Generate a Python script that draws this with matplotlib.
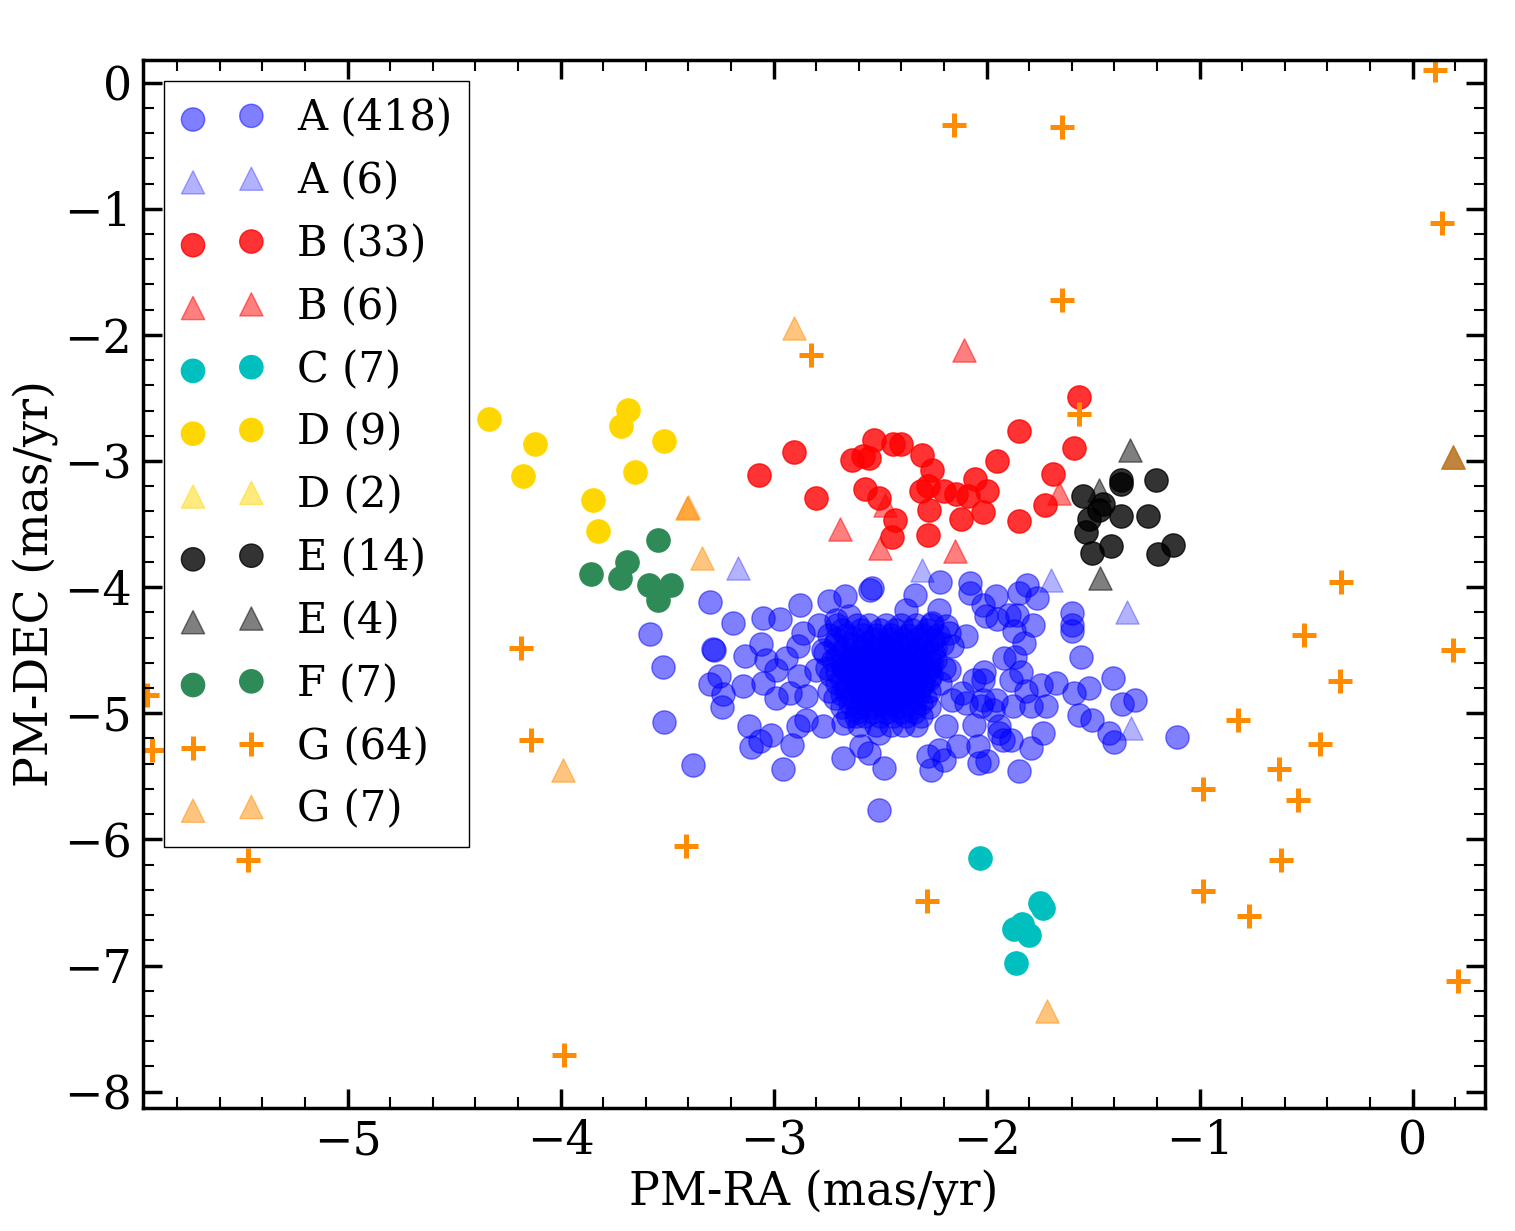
import matplotlib
matplotlib.use("Agg")
import matplotlib.pyplot as plt
from matplotlib.ticker import AutoMinorLocator

plt.rcParams['font.family'] = ['DejaVu Serif']

# ---- data ----
# A circles: outskirts
a_x = [-3.296, -3.580, -3.519, -3.515, -3.379, -3.191, -3.285, -3.280, -3.297, -3.254,
       -3.235, -3.244, -3.132, -3.051, -2.972, -2.874, -3.060, -3.144, -3.113, -3.011,
       -3.107, -3.063, -2.915, -2.957, -2.887, -2.738, -2.663, -2.538, -2.545, -2.785,
       -2.863, -2.887, -3.035, -2.988, -2.941, -3.051, -2.988, -2.925, -2.847, -2.879,
       -2.800, -2.769, -2.706, -2.644, -2.847, -2.769, -2.676, -2.676, -2.589, -2.550,
       -2.480, -2.504, -2.504, -2.613,
       -2.218, -2.335, -2.077, -2.078, -1.957, -2.019, -2.003, -1.949, -1.894, -1.855,
       -1.847, -1.808, -1.761, -1.780, -1.871, -1.824, -1.917, -1.866, -1.839, -1.886,
       -2.011, -2.058, -1.816, -1.746, -1.675, -1.722, -1.792, -1.878, -1.956, -2.027,
       -1.597, -1.600, -1.597, -1.558, -1.589, -1.519, -1.405, -1.363, -1.303, -1.566,
       -1.503, -1.425, -1.402, -1.108, -1.735, -1.789, -1.847, -1.886, -1.941, -1.940,
       -1.996, -2.035, -2.038, -2.058, -2.136, -2.199, -2.263, -2.277, -2.222, -2.191,
       -2.097, -2.113, -2.019, -2.160, -2.175, -2.097, -2.160, -2.175, -2.222, -2.254,
       -2.378, -2.191, -2.019, -1.972, -1.925]
a_y = [-4.118, -4.372, -4.634, -5.070, -5.411, -4.285, -4.489, -4.495, -4.766, -4.703,
       -4.845, -4.954, -4.544, -4.245, -4.253, -4.140, -4.449, -4.787, -5.104, -5.170,
       -5.268, -5.216, -5.255, -5.438, -5.104, -4.113, -4.068, -4.007, -4.020, -4.298,
       -4.364, -4.470, -4.576, -4.655, -4.562, -4.760, -4.880, -4.840, -4.866, -4.708,
       -4.655, -4.496, -4.259, -4.232, -5.051, -5.104, -5.078, -5.355, -5.263, -5.316,
       -5.435, -5.765, -5.157, -5.025,
       -3.960, -4.063, -3.968, -4.047, -4.068, -4.140, -4.232, -4.253, -4.219, -4.219,
       -4.047, -3.981, -4.087, -4.304, -4.351, -4.443, -4.562, -4.550, -4.669, -4.734,
       -4.669, -4.734, -4.827, -4.774, -4.760, -4.946, -4.946, -4.946, -4.893, -4.946,
       -4.206, -4.298, -4.351, -4.555, -4.840, -4.800, -4.721, -4.925, -4.893, -5.012,
       -5.051, -5.157, -5.224, -5.189, -5.157, -5.276, -5.456, -5.210, -5.104, -5.157,
       -5.382, -5.395, -5.263, -5.091, -5.263, -5.369, -5.453, -5.337, -5.289, -5.104,
       -4.919, -4.840, -4.893, -4.893, -4.655, -4.391, -4.470, -4.364, -4.179, -4.285,
       -4.179, -4.311, -4.735, -4.975, -5.210]
# A circles: dense core
a_core_x = [-2.70, -2.61, -2.55, -2.47, -2.40, -2.33, -2.26,
            -2.74, -2.66, -2.58, -2.52, -2.45, -2.37, -2.30, -2.23,
            -2.71, -2.63, -2.56, -2.49, -2.42, -2.36, -2.28, -2.21,
            -2.76, -2.68, -2.60, -2.54, -2.47, -2.40, -2.33, -2.25,
            -2.72, -2.64, -2.57, -2.50, -2.44, -2.38, -2.31, -2.24,
            -2.75, -2.67, -2.59, -2.53, -2.46, -2.41, -2.35, -2.27, -2.20,
            -2.73, -2.65, -2.58, -2.51, -2.45, -2.39, -2.32, -2.26,
            -2.70, -2.62, -2.56, -2.49, -2.43, -2.37, -2.30, -2.22,
            -2.74, -2.66, -2.59, -2.52, -2.46, -2.40, -2.34, -2.27,
            -2.71, -2.63, -2.55, -2.48, -2.42, -2.36, -2.29,
            -2.68, -2.60, -2.53, -2.47, -2.41, -2.34, -2.27,
            -2.65, -2.57, -2.50, -2.44, -2.38, -2.31,
            -2.60, -2.52, -2.45, -2.39, -2.33,
            -2.48, -2.43, -2.38, -2.52, -2.45, -2.40, -2.55, -2.36, -2.50, -2.44, -2.41, -2.47,
            -2.68, -2.59, -2.50, -2.43, -2.35, -2.28,
            -2.70, -2.62, -2.53, -2.46, -2.39, -2.32, -2.25,
            -2.67, -2.59, -2.52, -2.45, -2.38, -2.31, -2.24,
            -2.70, -2.62, -2.55, -2.48, -2.41, -2.34, -2.27,
            -2.68, -2.61, -2.54, -2.47, -2.40, -2.33, -2.26,
            -2.70, -2.62, -2.55, -2.48, -2.42, -2.35, -2.28,
            -2.68, -2.60, -2.53, -2.47, -2.40, -2.34, -2.27,
            -2.66, -2.58, -2.51, -2.45, -2.38, -2.31,
            -2.68, -2.60, -2.53, -2.46, -2.39, -2.32,
            -2.64, -2.57, -2.50, -2.44, -2.37, -2.31,
            -2.61, -2.54, -2.47, -2.40, -2.34]
a_core_y = [-4.30, -4.30, -4.30, -4.30, -4.30, -4.30, -4.30,
            -4.38, -4.38, -4.38, -4.38, -4.38, -4.38, -4.38, -4.38,
            -4.45, -4.45, -4.45, -4.45, -4.45, -4.45, -4.45, -4.45,
            -4.52, -4.52, -4.52, -4.52, -4.52, -4.52, -4.52, -4.52,
            -4.58, -4.58, -4.58, -4.58, -4.58, -4.58, -4.58, -4.58,
            -4.64, -4.64, -4.64, -4.64, -4.64, -4.64, -4.64, -4.64, -4.64,
            -4.70, -4.70, -4.70, -4.70, -4.70, -4.70, -4.70, -4.70,
            -4.76, -4.76, -4.76, -4.76, -4.76, -4.76, -4.76, -4.76,
            -4.82, -4.82, -4.82, -4.82, -4.82, -4.82, -4.82, -4.82,
            -4.88, -4.88, -4.88, -4.88, -4.88, -4.88, -4.88,
            -4.95, -4.95, -4.95, -4.95, -4.95, -4.95, -4.95,
            -5.02, -5.02, -5.02, -5.02, -5.02, -5.02,
            -5.09, -5.09, -5.09, -5.09, -5.09,
            -4.62, -4.68, -4.72, -4.74, -4.80, -4.60, -4.66, -4.66, -4.56, -4.50, -4.86, -4.92,
            -4.34, -4.34, -4.34, -4.34, -4.34, -4.34,
            -4.41, -4.41, -4.41, -4.41, -4.41, -4.41, -4.41,
            -4.48, -4.48, -4.48, -4.48, -4.48, -4.48, -4.48,
            -4.55, -4.55, -4.55, -4.55, -4.55, -4.55, -4.55,
            -4.61, -4.61, -4.61, -4.61, -4.61, -4.61, -4.61,
            -4.67, -4.67, -4.67, -4.67, -4.67, -4.67, -4.67,
            -4.73, -4.73, -4.73, -4.73, -4.73, -4.73, -4.73,
            -4.79, -4.79, -4.79, -4.79, -4.79, -4.79,
            -4.85, -4.85, -4.85, -4.85, -4.85, -4.85,
            -4.92, -4.92, -4.92, -4.92, -4.92, -4.92,
            -4.99, -4.99, -4.99, -4.99, -4.99]
at_x = [-3.168, -2.305, -1.697, -1.341, -1.322, -2.50]
at_y = [-3.849, -3.862, -3.940, -4.195, -5.115, -4.70]

b_x = [-3.069, -2.905, -2.802, -2.527, -2.633, -2.550, -2.441, -2.402, -2.301, -2.254,
       -2.569, -2.507, -2.428, -2.446, -2.308, -2.277, -2.269, -2.274, -1.564, -1.850,
       -1.588, -1.949, -1.686, -2.052, -1.996, -2.199, -2.144, -2.085, -2.015, -2.119,
       -1.850, -1.725, -2.580]
b_y = [-3.111, -2.929, -3.293, -2.831, -2.990, -2.976, -2.863, -2.863, -2.950, -3.069,
       -3.220, -3.293, -3.466, -3.603, -3.241, -3.201, -3.386, -3.584, -2.493, -2.762,
       -2.897, -3.000, -3.103, -3.140, -3.238, -3.235, -3.259, -3.275, -3.404, -3.460,
       -3.476, -3.349, -2.960]
bt_x = [-2.104, -1.658, -2.150, -2.690, -2.499, -2.475]
bt_y = [-2.123, -3.254, -3.717, -3.540, -3.690, -3.347]

c_x = [-2.030, -1.751, -1.733, -1.872, -1.832, -1.800, -1.861]
c_y = [-6.149, -6.505, -6.545, -6.709, -6.669, -6.762, -6.981]

d_x = [-4.335, -4.120, -4.176, -3.684, -3.716, -3.515, -3.651, -3.848, -3.824]
d_y = [-2.667, -2.865, -3.119, -2.593, -2.725, -2.841, -3.087, -3.309, -3.555]
dt_x = [-6.40, -6.60]
dt_y = [-2.40, -3.10]

e_x = [-1.368, -1.370, -1.203, -1.546, -1.452, -1.472, -1.518, -1.368, -1.241, -1.532,
       -1.414, -1.504, -1.125, -1.195]
e_y = [-3.154, -3.180, -3.151, -3.275, -3.341, -3.386, -3.460, -3.434, -3.436, -3.563,
       -3.677, -3.730, -3.664, -3.738]
et_x = [-1.325, -1.471, -1.468, 0.192]
et_y = [-2.916, -3.233, -3.928, -2.966]

f_x = [-3.543, -3.857, -3.688, -3.721, -3.585, -3.482, -3.543]
f_y = [-3.624, -3.896, -3.801, -3.931, -3.981, -3.981, -4.105]

g_x = [-5.940, -5.916, -5.466, -4.187, -4.140, -3.985, -3.413, -2.280,
       -2.152, -1.645, 0.103, 0.136, -1.645, -2.822, -1.566,
       -0.337, -0.511, 0.188, -0.343, -0.820, -0.436, -0.625, -0.985, -0.540,
       -0.616, -0.985, -0.770, 0.215]
g_y = [-4.853, -5.289, -6.162, -4.480, -5.210, -7.708, -6.051, -6.485,
       -0.333, -0.349, 0.103, -1.110, -1.721, -2.157, -2.625,
       -3.957, -4.377, -4.496, -4.742, -5.051, -5.242, -5.440, -5.599, -5.686,
       -6.162, -6.408, -6.606, -7.121]
gt_x = [-3.407, -3.400, -3.337, -3.990, -2.902, -1.715, 0.192]
gt_y = [-3.373, -3.368, -3.770, -5.450, -1.943, -7.357, -2.966]

labels = ['A (418)', 'A (6)', 'B (33)', 'B (6)', 'C (7)', 'D (9)', 'D (2)',
          'E (14)', 'E (4)', 'F (7)', 'G (64)', 'G (7)']

fig = plt.figure(figsize=(15.15, 12.31), dpi=100)
ax = fig.add_axes([0.0944, 0.0999, 0.8858, 0.8514])

S = 280
ax.scatter(a_x + a_core_x, a_y + a_core_y, s=S, marker='o', c='blue', alpha=0.5,
           label=labels[0])
ax.scatter(at_x, at_y, s=S, marker='^', c='blue', alpha=0.3, label=labels[1])
ax.scatter(b_x, b_y, s=S, marker='o', c='red', alpha=0.8, label=labels[2])
ax.scatter(bt_x, bt_y, s=S, marker='^', c='red', alpha=0.5, label=labels[3])
ax.scatter(c_x, c_y, s=S, marker='o', c='c', alpha=1.0, label=labels[4])
ax.scatter(d_x, d_y, s=S, marker='o', c='gold', alpha=1.0, label=labels[5])
ax.scatter(dt_x, dt_y, s=S, marker='^', c='gold', alpha=0.5, label=labels[6])
ax.scatter(e_x, e_y, s=S, marker='o', c='black', alpha=0.8, label=labels[7])
ax.scatter(et_x, et_y, s=S, marker='^', c='black', alpha=0.5, label=labels[8])
ax.scatter(f_x, f_y, s=S, marker='o', c='seagreen', alpha=1.0, label=labels[9])
ax.scatter(g_x, g_y, s=300, marker='+', c='darkorange', linewidths=3.6, label=labels[10])
ax.scatter(gt_x, gt_y, s=S, marker='^', c='darkorange', alpha=0.5, label=labels[11])

ax.set_xlim(-5.96, 0.34)
ax.set_ylim(-8.13, 0.18)
ax.set_xlabel('PM-RA (mas/yr)', fontsize=33)
ax.set_ylabel('PM-DEC (mas/yr)', fontsize=33)

ax.xaxis.set_minor_locator(AutoMinorLocator(5))
ax.yaxis.set_minor_locator(AutoMinorLocator(5))
ax.tick_params(which='both', direction='in', top=True, right=True)
ax.tick_params(which='major', length=14, width=2.5, labelsize=33, pad=8)
ax.tick_params(which='minor', length=8, width=1.5)
for sp in ax.spines.values():
    sp.set_linewidth(2.5)

leg = ax.legend(loc='upper left', scatterpoints=2, fontsize=30, fancybox=False,
                edgecolor='black', framealpha=1, labelspacing=0.5)
leg.get_frame().set_linewidth(1.0)

fig.savefig('out.png', dpi=100)
